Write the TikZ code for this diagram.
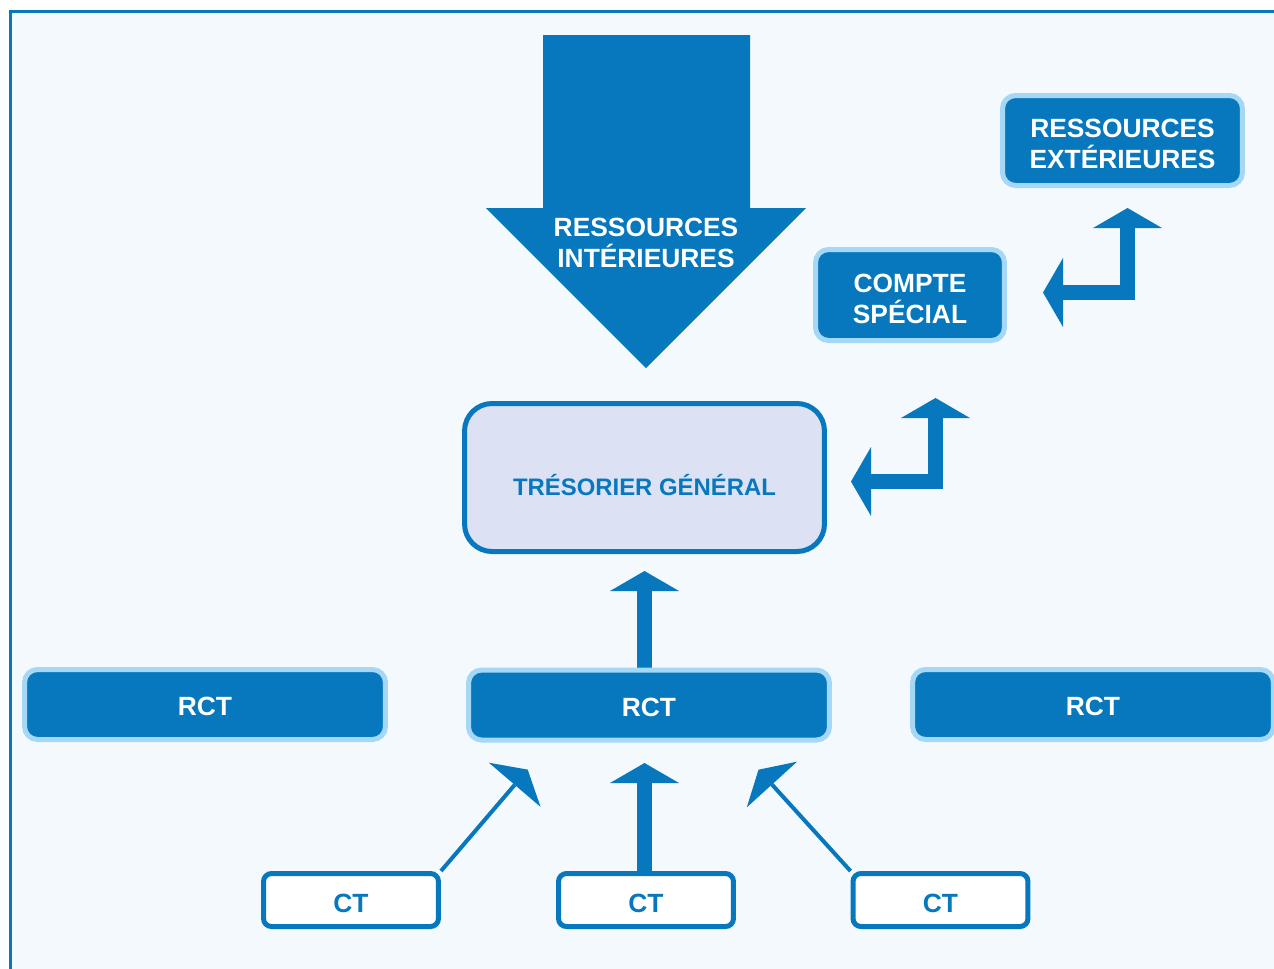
\documentclass[tikz,border=0pt]{standalone}
\usepackage{fontspec}
\setmainfont{Liberation Sans}
\usetikzlibrary{arrows.meta,calc}
\definecolor{dblue}{HTML}{0778BD}
\definecolor{lblue}{HTML}{A4D8F6}
\definecolor{bgblue}{HTML}{F4F9FE}
\definecolor{tresfill}{HTML}{DCE2F3}
\pgfdeclarelayer{back}
\pgfdeclarelayer{mid}
\pgfsetlayers{back,mid,main}
\newcommand{\mytopstrut}[1]{\rule{0pt}{#1}}
\tikzset{
  lbl/.style={font=\fontsize{15}{17.6}\selectfont\bfseries, align=center, inner sep=0pt},
  darkbox/.style={lbl, draw=lblue, fill=dblue, text=white, line width=0.1cm, rounded corners=0.26cm},
  rctbox/.style={darkbox, minimum width=7.22cm, minimum height=1.4cm, text height=0.45cm, text depth=0cm},
  ctbox/.style={lbl, draw=dblue, fill=white, text=dblue, line width=0.1cm, rounded corners=0.16cm,
    minimum width=3.5cm, minimum height=1.06cm, text height=0.51cm, text depth=0cm},
  tresbox/.style={draw=dblue, fill=tresfill, text=dblue, line width=0.1cm, rounded corners=0.55cm,
    font=\fontsize{13.6}{16}\selectfont\bfseries, inner sep=0pt,
    minimum width=7.2cm, minimum height=2.96cm, text height=0.722cm, text depth=0cm},
  fatarrow/.style={draw=dblue, line width=0.3cm, line join=miter},
  thinarrow/.style={draw=dblue, line width=0.08cm,
    -{Triangle[width=1.36cm,length=0.4cm,line width=0pt]}},
  fattip/.style={-{Triangle[width=1.38cm,length=0.4cm,line width=0pt]}},
  fatboth/.style={{Triangle[width=1.38cm,length=0.4cm,line width=0pt]}-{Triangle[width=1.38cm,length=0.4cm,line width=0pt]}}
}
\begin{document}
\begin{tikzpicture}[x=0.02cm,y=-0.02cm]
\useasboundingbox (0,0) rectangle (1274,968);
\begin{pgfonlayer}{back}
  \fill[white] (0,0) rectangle (1274,968);
  \draw[dblue, line width=0.06cm, fill=bgblue] (10.5,11) rectangle (1320,1020);
\end{pgfonlayer}

% big arrow
\fill[dblue] (543,35) -- (750,35) -- (750,208) -- (806,208) -- (646,368) -- (486,208) -- (543,208) -- cycle;
\node[lbl, text=white] (rint) at (646,243) {RESSOURCES\\INTÉRIEURES};

% nodes
\node[darkbox, minimum width=4.8cm, minimum height=1.8cm] (rext) at (1122.5,140.5) {\mytopstrut{0.49cm}RESSOURCES\\EXTÉRIEURES};
\node[darkbox, minimum width=3.78cm, minimum height=1.82cm] (cs) at (910,295) {\mytopstrut{0.51cm}COMPTE\\SPÉCIAL};
\node[tresbox] (tg) at (644.5,477.5) {TRÉSORIER GÉNÉRAL};
\node[rctbox] (rct1) at (205,704.5) {RCT};
\node[rctbox] (rct2) at (649,705) {RCT};
\node[rctbox] (rct3) at (1093,704.5) {RCT};
\node[ctbox] (ct1) at (351,900) {CT};
\node[ctbox] (ct2) at (646,900) {CT};
\node[ctbox] (ct3) at (940.5,900) {CT};

% connector end points
\coordinate (e1a) at (851,481.5);
\coordinate (e1b) at (935.5,398);
\coordinate (e2a) at (1043,292.5);
\coordinate (e2b) at (1127.5,208);
\coordinate (tipA) at (644.5,571);
\coordinate (tipB) at (644.5,763);
\coordinate (tipC) at (527.7,769.6);
\coordinate (tipD) at (758.5,769.7);

\begin{pgfonlayer}{mid}
  \draw[fatarrow, fatboth] (e1a) -| (e1b);
  \draw[fatarrow, fatboth] (e2a) -| (e2b);
  \draw[fatarrow, fattip] (tipA |- rct2.north) -- (tipA);
  \draw[fatarrow, fattip] (tipB |- ct2.north) -- (tipB);
  \draw[thinarrow] (ct1.north east) -- (tipC);
  \draw[thinarrow] (ct3.north west) -- (tipD);
\end{pgfonlayer}
\end{tikzpicture}
\end{document}
